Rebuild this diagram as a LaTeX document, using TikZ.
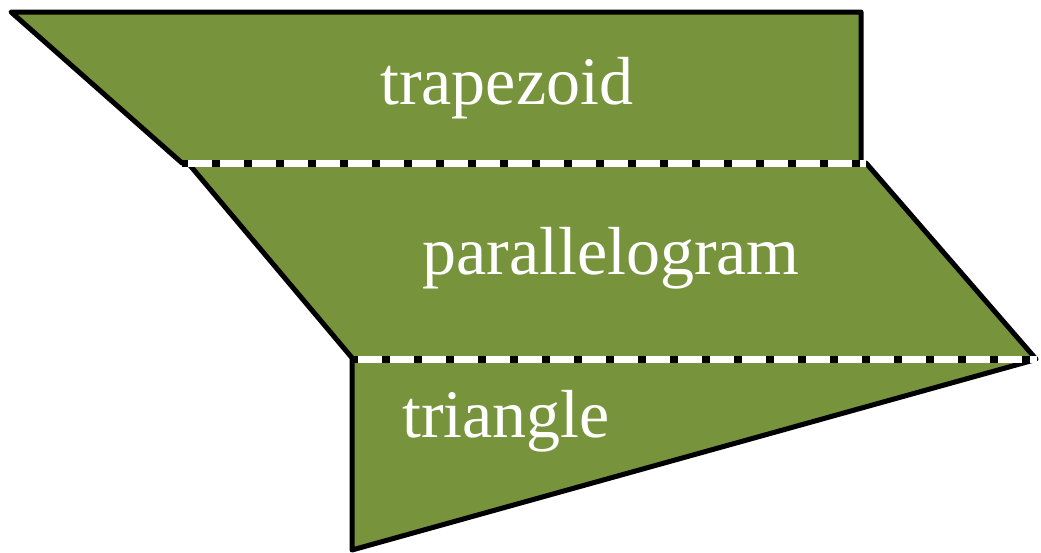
\documentclass[tikz,border=0pt]{standalone}
\usepackage{fontspec}
\setmainfont{Liberation Serif}
\definecolor{olive}{RGB}{119,147,60}
\tikzset{
  shapefill/.style={fill=olive, draw=none},
  outline/.style={draw=black, line width=5, line join=round, line cap=round},
  seamblack/.style={draw=black, line width=7},
  seamwhite/.style={draw=white, line width=7, dash pattern=on 23.5 off 8.5},
  lbl/.style={text=white, anchor=base west, inner sep=0, font=\fontsize{68}{80}\selectfont}
}
\begin{document}
\begin{tikzpicture}[x=1pt,y=-1pt]
\useasboundingbox (0,0) rectangle (1041,552);
% corner coordinates
\coordinate (tA) at (11,12);
\coordinate (tB) at (861,12);
\coordinate (tC) at (861,163);
\coordinate (tD) at (182,163);
\coordinate (pA) at (188,163);
\coordinate (pB) at (866,163);
\coordinate (pC) at (1036,359);
\coordinate (pD) at (353,359);
\coordinate (rA) at (352,359);
\coordinate (rB) at (1034,360);
\coordinate (rC) at (352,550);
\coordinate (s1a) at (182,163);
\coordinate (s1b) at (866,163);
\coordinate (s2a) at (352,359);
\coordinate (s2b) at (1037,359);
% fills
\fill[shapefill] (tA) -- (tB) -- (tC) -- (tD) -- cycle;
\fill[shapefill] (pA) -- (pB) -- (pC) -- (pD) -- cycle;
\fill[shapefill] (rA) -- (rB) -- (rC) -- cycle;
% outlines
\draw[outline] (tD) -- (tA) -- (tB) -- (tC);
\draw[outline] (pA) -- (pD);
\draw[outline] (pB) -- (pC);
\draw[outline] (rA) -- (rC) -- (rB);
% seams
\draw[seamblack] (s1a) -- (s1b);
\draw[seamwhite] ([xshift=6]s1a) -- (s1b);
\draw[seamblack] (s2a) -- (s2b);
\draw[seamwhite] ([xshift=6]s2a) -- (s2b);
% labels
\node[lbl] (ltrap) at (380,104) {trapezoid};
\node[lbl] (lpara) at (422,274) {parallelogram};
\node[lbl] (ltri) at (402,437) {triangle};
\end{tikzpicture}
\end{document}
